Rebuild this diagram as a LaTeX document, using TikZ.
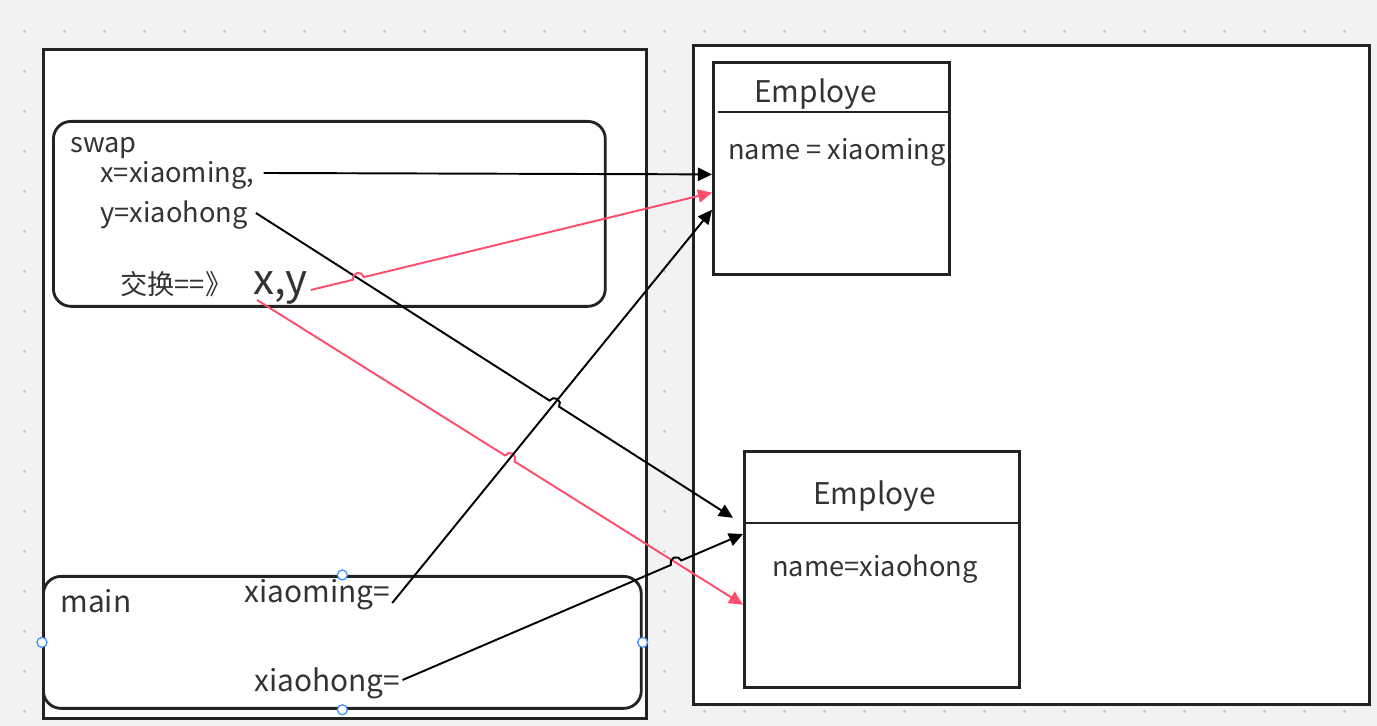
\documentclass[tikz,border=0pt]{standalone}
\usepackage{fontspec}
\setmainfont{Noto Sans CJK SC}
\usepackage{tikz}
\usetikzlibrary{arrows.meta, calc, intersections, positioning}

\definecolor{canvas}{HTML}{F2F2F5}
\definecolor{griddot}{HTML}{C8C8CC}
\definecolor{ink}{HTML}{232323}
\definecolor{txt}{HTML}{333333}
\definecolor{refred}{HTML}{FF4D6D}
\definecolor{handleblue}{HTML}{3F8CFF}

% line hop: style, from, crossing, to
\newcommand{\hopr}{3.2pt}
\newcommand{\hopline}[4]{%
  \draw[#1] let \p1=($(#4)-(#2)$), \n1={atan2(\y1,\x1)} in
    (#2) -- ($(#3)!\hopr!(#2)$) arc[start angle={\n1+180}, end angle={\n1}, radius=\hopr] -- (#4);}

\begin{document}
\begin{tikzpicture}[x=0.02cm, y=0.02cm,
    frame/.style={draw=ink, line width=1.6pt, fill=white, inner sep=0pt, anchor=north west},
    lbl/.style={text=txt, anchor=base west, inner sep=0pt, font=\fontsize{15.5}{19}\selectfont},
    mainlbl/.style={lbl, font=\fontsize{17}{20}\selectfont},
    title/.style={lbl, font=\fontsize{17}{20}\selectfont},
    arr/.style={draw=black, line width=1.1pt, -{Triangle[length=8pt,width=7.5pt]}},
    redarr/.style={arr, draw=refred, -{Triangle[length=8pt,width=7.5pt,fill=refred]}},
    handle/.style={circle, draw=handleblue, fill=white, line width=0.7pt, minimum size=0.2cm, inner sep=0pt}]
  \useasboundingbox (0,0) rectangle (1377,726);
  \fill[canvas] (0,0) rectangle (1377,726);
  \foreach \i in {0,...,33}
    \foreach \j in {0,...,17}
      \fill[griddot] (24.5+40*\i,694.5-40*\j) circle (0.9pt);

  % frames
  \node[frame, minimum width=12.06cm, minimum height=13.38cm] (stack) at (42,678) {};
  \node[frame, minimum width=13.52cm, minimum height=13.18cm] (heap) at (692,682) {};
  \node[frame, rounded corners=10pt, minimum width=11.04cm, minimum height=3.70cm] (swap) at (52,606) {};
  \node[frame, rounded corners=10pt, minimum width=11.96cm, minimum height=2.64cm] (main) at (42,151) {};
  \node[frame, minimum width=4.72cm, minimum height=4.24cm] (e1) at (712,665) {};
  \node[frame, minimum width=5.50cm, minimum height=4.72cm] (e2) at (743,276) {};
  \draw[ink, line width=1.6pt] ($(e1.north west)+(6,-51)$) -- ($(e1.north east)+(0,-51)$);
  \draw[ink, line width=1.6pt] ($(e2.north west)+(0,-73)$) -- ($(e2.north east)+(0,-73)$);

  % texts
  \node[lbl] (tswap) at (70,573) {swap};
  \node[lbl] (xa) at (100,543) {x=xiaoming,};
  \node[lbl] (ya) at (100,503) {y=xiaohong};
  \node[lbl] (swapop) at (120,431) {交换==》};
  \node[lbl, font=\fontsize{24}{28}\selectfont] (xy) at (253,431) {x,y};
  \node[mainlbl] (tmain) at (60,113) {main};
  \node[mainlbl] (xm) at (244,123) {xiaoming=};
  \node[mainlbl] (xh) at (254,34) {xiaohong=};
  \node[title] (e1t) at (754,623) {Employe};
  \node[lbl] (e1n) at (728,566) {name = xiaoming};
  \node[title] (e2t) at (813,221) {Employe};
  \node[lbl] (e2n) at (772,149) {name=xiaohong};

  % connector ends
  \coordinate (s1) at ([shift={(9,10)}]xa.base east);
  \coordinate (s2) at ([shift={(8,10)}]ya.base east);
  \coordinate (s3) at ([shift={(3,5)}]xy.base east);
  \coordinate (s4) at ([shift={(4,-5)}]xy.base west);
  \coordinate (s5) at ([shift={(2,0)}]xm.base east);
  \coordinate (s6) at ([shift={(2,12)}]xh.base east);
  \coordinate (t1) at ($(e1.north west)!0.528!(e1.south west)$);
  \coordinate (t3) at ($(e1.north west)!0.613!(e1.south west)$);
  \coordinate (t5) at ($(e1.north west)!0.693!(e1.south west)$);
  \coordinate (t2) at ($(e2.north west)!0.284!(e2.south west)+(-10,0)$);
  \coordinate (t6) at ($(e2.north west)!0.352!(e2.south west)$);
  \coordinate (t4) at ($(e2.north west)!0.648!(e2.south west)$);

  \path[name path=l2] (s2) -- (t2);
  \path[name path=l3] (s3) -- (t3);
  \path[name path=l4] (s4) -- (t4);
  \path[name path=l5] (s5) -- (t5);
  \path[name path=l6] (s6) -- (t6);
  \path[name intersections={of=l2 and l5, by=x25}];
  \path[name intersections={of=l3 and l2, by=x32}];
  \path[name intersections={of=l4 and l5, by=x45}];
  \path[name intersections={of=l6 and l4, by=x64}];

  % connectors
  \draw[arr] (s1) -- (t1);
  \hopline{arr}{s2}{x25}{t2}
  \hopline{redarr}{s3}{x32}{t3}
  \hopline{redarr}{s4}{x45}{t4}
  \draw[arr] (s5) -- (t5);
  \hopline{arr}{s6}{x64}{t6}

  % selection handles
  \node[handle] (hn) at (main.north) {};
  \node[handle] (hs) at (main.south) {};
  \node[handle] (hw) at (main.west) {};
  \node[handle] (he) at (main.east) {};
\end{tikzpicture}
\end{document}
